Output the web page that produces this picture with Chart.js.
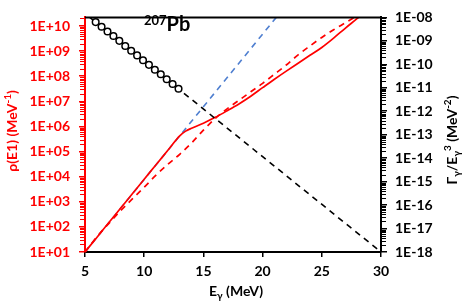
<!DOCTYPE html>
<html>
<head>
<meta charset="utf-8">
<script src="https://cdn.jsdelivr.net/npm/chart.js@4.4.0/dist/chart.umd.min.js"></script>
<style>
  html, body { margin: 0; padding: 0; background: #fff; }
  canvas { display: block; }
</style>
</head>
<body>
<canvas id="chart" width="464" height="302"></canvas>
<script>
// level density rho(E1), solid curve
const rhoEnergy = [5, 6, 7, 8, 9, 10, 11, 12, 13, 13.5, 14, 15, 16, 17, 18, 19, 20, 21, 22, 23, 24, 25, 26, 27, 28, 28.5];
const rhoSolid = [1.0e1, 3.8e1, 1.45e2, 5.5e2, 2.1e3, 7.9e3, 3.0e4, 1.12e5, 4.2e5, 6.5e5, 8.5e5, 1.35e6, 2.3e6, 4.2e6, 7.9e6, 1.6e7, 3.5e7, 7.6e7, 1.6e8, 3.3e8, 6.8e8, 1.4e9, 3.3e9, 8.3e9, 2.0e10, 3.2e10];

// rho(E1), dashed red curve
const dashEnergy = [5, 6, 7, 8, 9, 10, 11, 12, 13, 14, 15, 16, 17, 18, 19, 20, 21, 22, 23, 24, 25, 26, 27, 28];
const rhoDashed = [1.0e1, 4.0e1, 1.35e2, 4.4e2, 1.3e3, 3.8e3, 1.15e4, 3.1e4, 7.8e4, 2.2e5, 7.1e5, 2.1e6, 5.0e6, 1.1e7, 2.4e7, 5.2e7, 1.2e8, 2.8e8, 7.1e8, 1.6e9, 3.5e9, 7.1e9, 1.35e10, 2.6e10];

// blue dashed extrapolation
const blueEnergy = [5, 21.5];
const blueRho = [1.0e1, 3.5e10];

// Gamma/E^3, right axis
const gammaLineEnergy = [5.4, 30];
const gammaLine = [1.0e-8, 1.0e-18];
const gammaEnergy = [5.9, 6.4, 6.9, 7.4, 7.9, 8.4, 8.9, 9.4, 9.9, 10.4, 10.9, 11.4, 11.9, 12.4, 12.9];
const gammaPoints = [6.3e-9, 4.0e-9, 2.5e-9, 1.6e-9, 1.0e-9, 6.0e-10, 3.8e-10, 2.4e-10, 1.5e-10, 9.5e-11, 5.9e-11, 3.8e-11, 2.3e-11, 1.45e-11, 9.1e-12];

// axes
const leftTicks = [1e1, 1e2, 1e3, 1e4, 1e5, 1e6, 1e7, 1e8, 1e9, 1e10];
const leftLabels = ['1E+01', '1E+02', '1E+03', '1E+04', '1E+05', '1E+06', '1E+07', '1E+08', '1E+09', '1E+10'];
const rightTicks = [1e-18, 1e-17, 1e-16, 1e-15, 1e-14, 1e-13, 1e-12, 1e-11, 1e-10, 1e-9, 1e-8];
const rightLabels = ['1E-18', '1E-17', '1E-16', '1E-15', '1E-14', '1E-13', '1E-12', '1E-11', '1E-10', '1E-09', '1E-08'];

const RED = '#ff0000';
const BLUE = '#4f7fd0';
const FONT = 'Lato';

function pts(xs, ys) {
  return xs.map((x, i) => ({ x: x, y: ys[i] }));
}

function minorTicks(ctx, scale, x0, len, color) {
  const lo = Math.floor(Math.log10(scale.min));
  const hi = Math.ceil(Math.log10(scale.max));
  ctx.strokeStyle = color;
  ctx.lineWidth = 1;
  for (let d = lo; d < hi; d++) {
    for (let k = 2; k <= 9; k++) {
      const v = k * Math.pow(10, d);
      if (v < scale.min || v > scale.max) continue;
      const y = Math.round(scale.getPixelForValue(v)) + 0.5;
      ctx.beginPath();
      ctx.moveTo(x0, y);
      ctx.lineTo(x0 + len, y);
      ctx.stroke();
    }
  }
}

// parts: [text, size, dy]
function richText(ctx, parts, x, y, angle, color, align) {
  ctx.save();
  ctx.translate(x, y);
  ctx.rotate(angle);
  let w = 0;
  parts.forEach(p => {
    ctx.font = 'bold ' + p[1] + 'px ' + FONT;
    w += ctx.measureText(p[0]).width;
  });
  let cx = align === 'left' ? 0 : -w / 2;
  ctx.fillStyle = color;
  ctx.textBaseline = 'alphabetic';
  ctx.textAlign = 'left';
  parts.forEach(p => {
    ctx.font = 'bold ' + p[1] + 'px ' + FONT;
    ctx.fillText(p[0], cx, p[2]);
    cx += ctx.measureText(p[0]).width;
  });
  ctx.restore();
}

const extras = {
  id: 'extras',
  afterDraw(chart) {
    const ctx = chart.ctx;
    const area = chart.chartArea;
    ctx.save();
    ctx.strokeStyle = '#000';
    ctx.lineWidth = 2;
    ctx.beginPath();
    ctx.moveTo(area.left, area.top);
    ctx.lineTo(area.right + 1, area.top);
    ctx.stroke();

    minorTicks(ctx, chart.scales.y, area.left - 1, -4, RED);
    minorTicks(ctx, chart.scales.y2, area.right + 1, 4, '#000');

    // axis titles
    richText(ctx, [['\u03c1(E1) (MeV', 14, 0], ['-1', 10, -6], [')', 14, 0]], 17, 131, -Math.PI / 2, RED);
    richText(ctx, [['\u0393', 14, 0], ['\u03b3', 10, 3], ['/E', 14, 0], ['\u03b3', 10, 3], ['3', 10, -6], [' (MeV', 14, 0], ['-2', 10, -6], [')', 14, 0]], 457, 140, -Math.PI / 2, '#000');
    richText(ctx, [['E', 14, 0], ['\u03b3', 10, 3], [' (MeV)', 14, 0]], 236, 296, 0, '#000');

    // label in the plot
    richText(ctx, [['207', 13, -6], ['Pb', 20, 0]], 144, 31, 0, '#000', 'left');
    ctx.restore();
  }
};

new Chart(document.getElementById('chart'), {
  type: 'line',
  data: {
    datasets: [
      {
        data: pts(gammaEnergy, gammaPoints),
        yAxisID: 'y2',
        showLine: false,
        pointRadius: 3.3,
        pointBorderWidth: 1.5,
        pointBorderColor: '#000',
        pointBackgroundColor: '#fff'
      },
      {
        data: pts(gammaLineEnergy, gammaLine),
        yAxisID: 'y2',
        borderColor: '#000',
        borderWidth: 1.6,
        borderDash: [6, 5],
        pointRadius: 0
      },
      {
        data: pts(rhoEnergy, rhoSolid),
        yAxisID: 'y',
        borderColor: RED,
        borderWidth: 1.7,
        cubicInterpolationMode: 'monotone',
        pointRadius: 0
      },
      {
        data: pts(dashEnergy, rhoDashed),
        yAxisID: 'y',
        borderColor: RED,
        borderWidth: 1.7,
        borderDash: [6, 5],
        cubicInterpolationMode: 'monotone',
        pointRadius: 0
      },
      {
        data: pts(blueEnergy, blueRho),
        yAxisID: 'y',
        borderColor: BLUE,
        borderWidth: 1.6,
        borderDash: [6, 5],
        pointRadius: 0
      }
    ]
  },
  options: {
    responsive: false,
    animation: false,
    events: [],
    layout: { padding: { top: 5, left: 0, right: 0, bottom: 0 } },
    plugins: {
      legend: { display: false },
      tooltip: { enabled: false },
      title: { display: false }
    },
    scales: {
      x: {
        type: 'linear',
        min: 5,
        max: 30,
        afterFit: s => { s.height = 50; },
        ticks: {
          stepSize: 5,
          color: '#000',
          padding: 6,
          font: { family: FONT, size: 14, weight: 'bold' }
        },
        grid: { drawOnChartArea: false, color: '#000', tickLength: 5, lineWidth: 1.5 },
        border: { color: '#000', width: 2 }
      },
      y: {
        type: 'logarithmic',
        position: 'left',
        min: 1e1,
        max: 2.2e10,
        afterFit: s => { s.width = 85; },
        afterBuildTicks: s => { s.ticks = leftTicks.map(v => ({ value: v })); },
        ticks: {
          color: RED,
          padding: 9,
          autoSkip: false,
          font: { family: FONT, size: 14, weight: 'bold' },
          callback: (v, i) => leftLabels[i]
        },
        grid: { drawOnChartArea: false, color: RED, tickLength: 6, lineWidth: 1.5 },
        border: { color: RED, width: 2 }
      },
      y2: {
        type: 'logarithmic',
        position: 'right',
        min: 1e-18,
        max: 1e-8,
        afterFit: s => { s.width = 83; },
        afterBuildTicks: s => { s.ticks = rightTicks.map(v => ({ value: v })); },
        ticks: {
          color: '#000',
          padding: 8,
          autoSkip: false,
          font: { family: FONT, size: 14, weight: 'bold' },
          callback: (v, i) => rightLabels[i]
        },
        grid: { drawOnChartArea: false, color: '#000', tickLength: 6, lineWidth: 1.5 },
        border: { color: '#000', width: 2 }
      }
    }
  },
  plugins: [extras]
});
</script>
</body>
</html>
